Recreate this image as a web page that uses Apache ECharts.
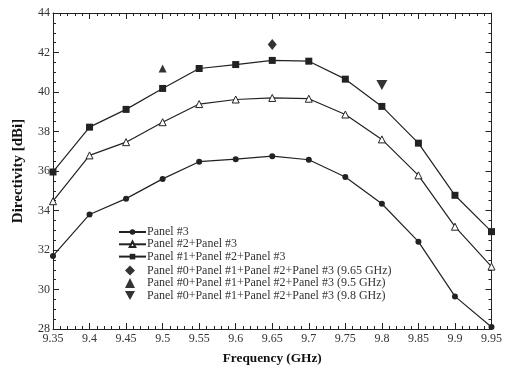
<!DOCTYPE html>
<html><head><meta charset="utf-8">
<script src="https://cdn.jsdelivr.net/npm/echarts@6/dist/echarts.min.js"></script>
<style>html,body{margin:0;padding:0;background:#fff}#c{width:505px;height:370px}</style>
</head><body><div id="c"></div>
<script>
const freqs = [9.35, 9.4, 9.45, 9.5, 9.55, 9.6, 9.65, 9.7, 9.75, 9.8, 9.85, 9.9, 9.95];
const panel3 = [31.7, 33.8, 34.6, 35.6, 36.47, 36.6, 36.75, 36.57, 35.7, 34.34, 32.42, 29.65, 28.1];
const panel23 = [34.47, 36.79, 37.46, 38.47, 39.39, 39.62, 39.7, 39.66, 38.86, 37.6, 35.78, 33.18, 31.16];
const panel123 = [35.95, 38.22, 39.12, 40.18, 41.19, 41.39, 41.6, 41.56, 40.65, 39.27, 37.41, 34.77, 32.93];
const full965 = [[9.65, 42.41]];
const full95 = [[9.5, 41.19]];
const full98 = [[9.8, 40.36]];
const seriesNames = [
  'Panel #3',
  'Panel #2+Panel #3',
  'Panel #1+Panel #2+Panel #3',
  'Panel #0+Panel #1+Panel #2+Panel #3 (9.65 GHz)',
  'Panel #0+Panel #1+Panel #2+Panel #3 (9.5 GHz)',
  'Panel #0+Panel #1+Panel #2+Panel #3 (9.8 GHz)'
];
const zip = (ys) => freqs.map((f, i) => [f, ys[i]]);
const font = 'Liberation Serif';
const ink = '#222';
const downTri = 'path://M0,0 L10,0 L5,9 Z';
const axisCommon = {
  axisLine: {show: true, lineStyle: {color: ink, width: 1}},
  axisTick: {show: true, inside: true, length: 6, lineStyle: {color: ink}},
  minorTick: {show: true, length: 3, lineStyle: {color: ink}},
  splitLine: {show: false},
  minorSplitLine: {show: false}
};
const chart = echarts.init(document.getElementById('c'), null, {renderer: 'canvas'});
chart.setOption({
  animation: false,
  backgroundColor: '#fff',
  textStyle: {fontFamily: font},
  grid: {left: 53, right: 13, top: 13, bottom: 38},
  xAxis: [
    Object.assign({}, axisCommon, {
      type: 'value', min: 9.35, max: 9.95, interval: 0.05,
      minorTick: Object.assign({}, axisCommon.minorTick, {splitNumber: 5}),
      axisLabel: {color: '#333', fontFamily: font, fontSize: 12, margin: 4,
        formatter: v => String(parseFloat(v.toFixed(2)))},
      name: 'Frequency (GHz)', nameLocation: 'middle', nameGap: 23,
      nameTextStyle: {color: '#111', fontFamily: font, fontSize: 13.3, fontWeight: 'bold'}
    }),
    Object.assign({}, axisCommon, {
      type: 'value', position: 'top', min: 9.35, max: 9.95, interval: 0.05,
      minorTick: Object.assign({}, axisCommon.minorTick, {splitNumber: 5}),
      axisLabel: {show: false}
    })
  ],
  yAxis: [
    Object.assign({}, axisCommon, {
      type: 'value', min: 28, max: 44, interval: 2,
      minorTick: Object.assign({}, axisCommon.minorTick, {splitNumber: 4}),
      axisLabel: {color: '#333', fontFamily: font, fontSize: 12, margin: 3},
      name: 'Directivity [dBi]', nameLocation: 'middle', nameGap: 27,
      nameTextStyle: {color: '#111', fontFamily: font, fontSize: 15, fontWeight: 'bold'}
    }),
    Object.assign({}, axisCommon, {
      type: 'value', position: 'right', min: 28, max: 44, interval: 2,
      minorTick: Object.assign({}, axisCommon.minorTick, {splitNumber: 4}),
      axisLabel: {show: false}
    })
  ],
  legend: [
    {
      orient: 'vertical', left: 118, top: 226, padding: 0, itemWidth: 27, itemHeight: 7, itemGap: 0.3,
      textStyle: {color: '#333', fontFamily: font, fontSize: 12, lineHeight: 12, padding: [0, 0, 0, -4]},
      data: seriesNames.slice(0, 3)
    },
    {
      orient: 'vertical', left: 125, top: 264.5, padding: 0, itemWidth: 10, itemHeight: 10, itemGap: 0.5,
      textStyle: {color: '#333', fontFamily: font, fontSize: 12, lineHeight: 12, padding: [0, 0, 0, 7]},
      data: seriesNames.slice(3)
    }
  ],
  series: [
    {name: seriesNames[0], type: 'line', data: zip(panel3), symbol: 'circle', symbolSize: 6,
      lineStyle: {color: ink, width: 1.2}, itemStyle: {color: ink}},
    {name: seriesNames[1], type: 'line', data: zip(panel23), symbol: 'triangle', symbolSize: 7,
      lineStyle: {color: ink, width: 1.2}, itemStyle: {color: '#fff', borderColor: ink, borderWidth: 1}},
    {name: seriesNames[2], type: 'line', data: zip(panel123), symbol: 'rect', symbolSize: 7,
      lineStyle: {color: ink, width: 1.2}, itemStyle: {color: ink}},
    {name: seriesNames[3], type: 'scatter', data: full965, symbol: 'diamond', symbolSize: [9, 11],
      itemStyle: {color: '#000'}},
    {name: seriesNames[4], type: 'scatter', data: full95, symbol: 'triangle', symbolSize: [8, 8],
      itemStyle: {color: '#000'}},
    {name: seriesNames[5], type: 'scatter', data: full98, symbol: downTri, symbolSize: [11, 10],
      itemStyle: {color: '#000'}}
  ]
});
</script></body></html>
